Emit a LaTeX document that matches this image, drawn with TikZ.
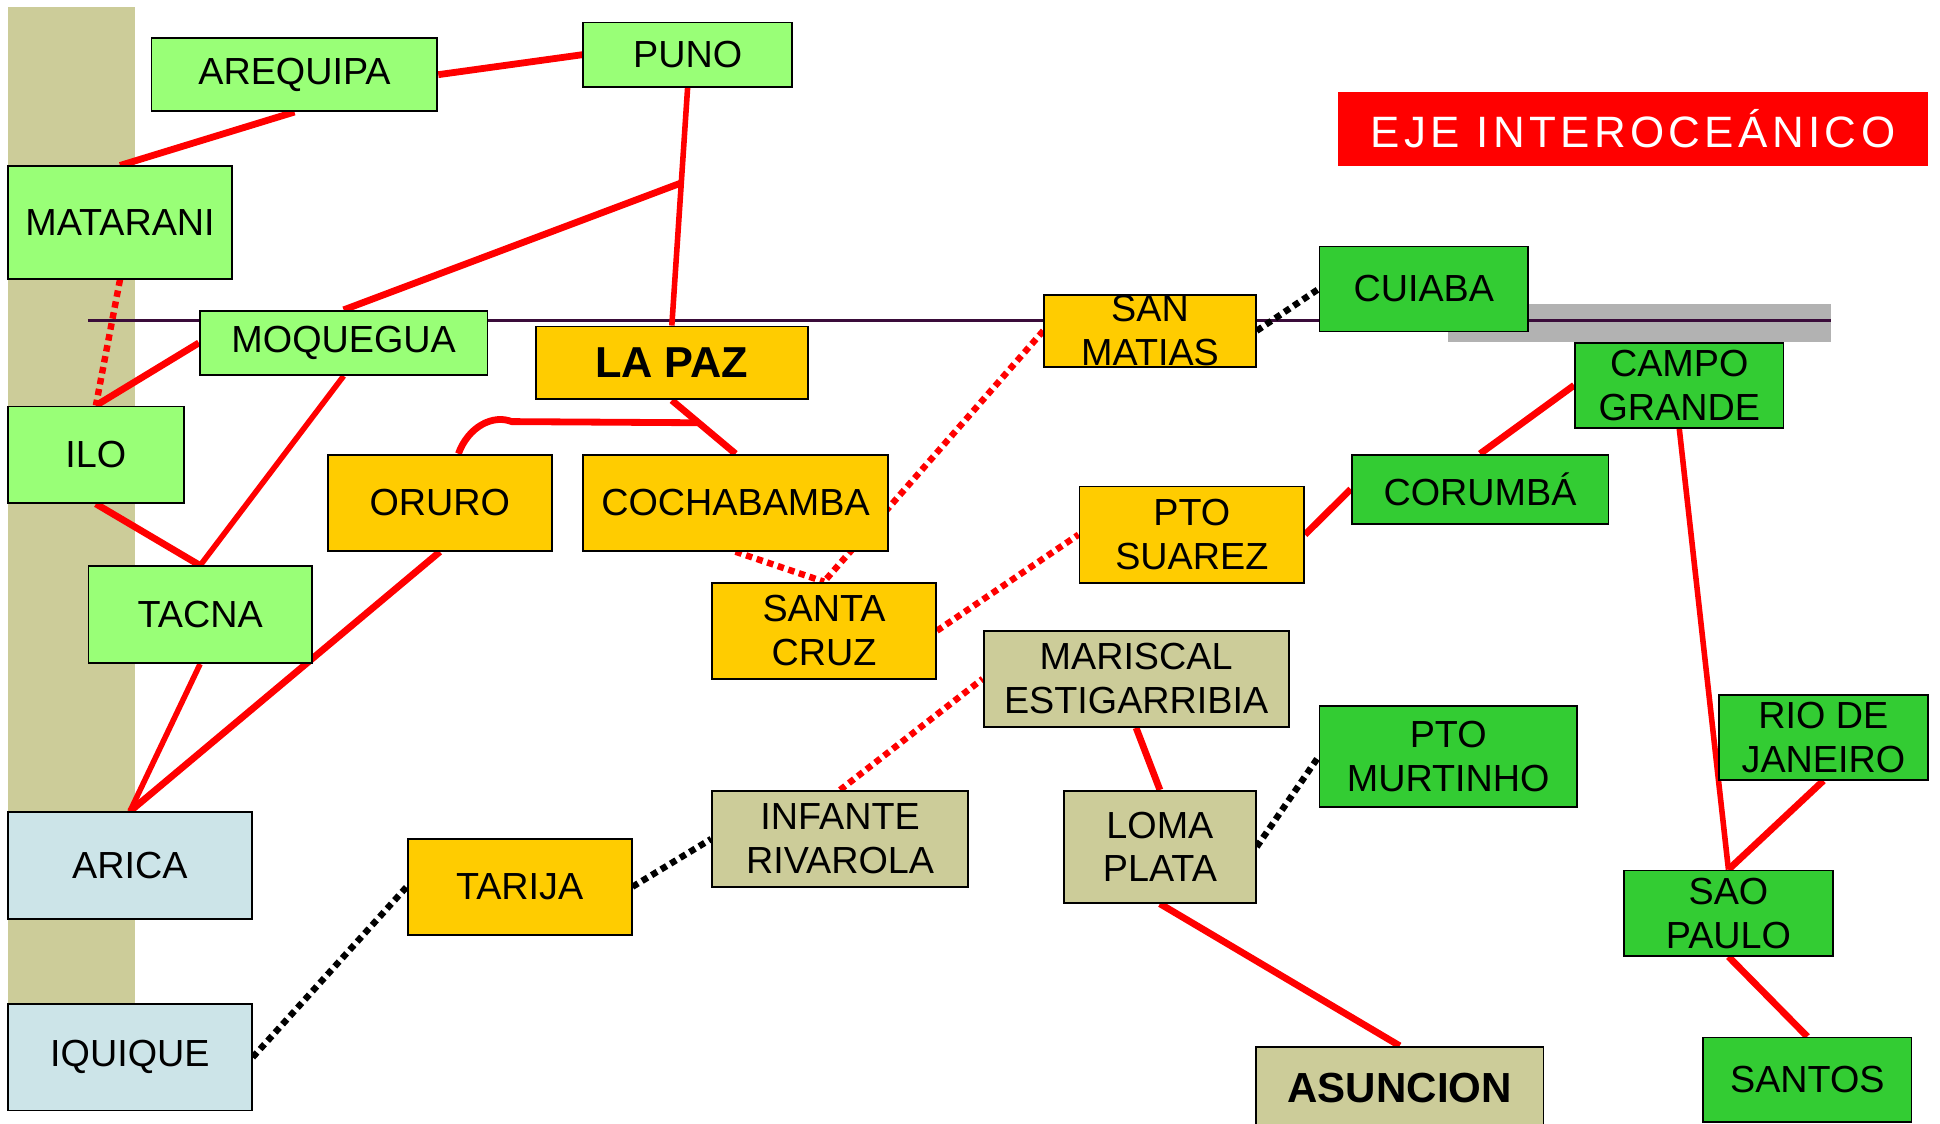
\documentclass[tikz,border=0pt]{standalone}
\usepackage{fontspec}
\setmainfont{Liberation Sans}
\newfontfamily\titlefont[LetterSpace=10]{Liberation Sans}
\usetikzlibrary{calc}
\pgfdeclarelayer{bg}\pgfdeclarelayer{edges}\pgfsetlayers{bg,edges,main}
\definecolor{lgreen}{RGB}{153,255,119}
\definecolor{dgreen}{RGB}{51,204,51}
\definecolor{gold}{RGB}{255,204,0}
\definecolor{tan}{RGB}{204,204,153}
\definecolor{lblue}{RGB}{204,228,232}
\definecolor{axis}{RGB}{58,12,58}
\definecolor{barg}{RGB}{178,178,178}
\begin{document}
\begin{tikzpicture}[x=1pt,y=-1pt,
  box/.style={draw=black, line width=1.5pt, inner sep=0pt, align=center,
    font=\fontsize{30.5}{35.5}\selectfont},
  road/.style={red, line width=5.5pt},
  thinroad/.style={red, line width=4.5pt},
  rdot/.style={red, line width=5.2pt, dash pattern=on 5.2pt off 3.8pt},
  kdot/.style={black, line width=5.2pt, dash pattern=on 5.2pt off 3.8pt}]
\useasboundingbox (0,0) rectangle (1568,908);
\begin{pgfonlayer}{bg}
  \fill[white] (0,0) rectangle (1568,908);
  \fill[tan] (6.5,5.8) rectangle (109.5,812);
  \fill[barg] (1170.5,245.7) rectangle (1480,276.6);
  \draw[axis, line width=2.9pt] (71,259) -- (1480,259);
\end{pgfonlayer}
% nodes
\node[box, fill=lgreen, minimum width=231, minimum height=58.9] (areq) at (238,60.35) {AREQUIPA};
\node[box, fill=lgreen, minimum width=168.5, minimum height=52] (puno) at (555.75,44.2) {PUNO};
\node[box, fill=lgreen, minimum width=181, minimum height=90.7] (mata) at (97,179.85) {MATARANI};
\node[box, fill=lgreen, minimum width=232.5, minimum height=51.9] (moq) at (277.75,277.15) {MOQUEGUA};
\node[box, fill=gold, minimum width=220, minimum height=58.9, font=\fontsize{35}{40}\bfseries] (lapaz) at (543,293.35) {LA PAZ};
\node[box, fill=lgreen, minimum width=142, minimum height=78] (ilo) at (77.5,367.5) {ILO};
\node[box, fill=gold, minimum width=181, minimum height=77.7] (oruro) at (355.5,406.35) {ORURO};
\node[box, fill=gold, minimum width=246, minimum height=77.7] (cocha) at (594.5,406.35) {COCHABAMBA};
\node[box, fill=lgreen, minimum width=180.5, minimum height=78.1] (tacna) at (161.75,496.85) {TACNA};
\node[box, fill=lblue, minimum width=197, minimum height=86.2] (arica) at (105,699.7) {ARICA};
\node[box, fill=lblue, minimum width=197, minimum height=85.9] (iqui) at (105,854.55) {IQUIQUE};
\node[box, fill=gold, minimum width=181, minimum height=77.8] (tarija) at (420,716.7) {TARIJA};
\node[box, fill=gold, minimum width=181, minimum height=77.8] (scruz) at (666,509.8) {SANTA\\CRUZ};
\node[box, fill=tan, minimum width=207, minimum height=77.8] (infante) at (679,678.1) {INFANTE\\RIVAROLA};
\node[box, fill=gold, minimum width=171, minimum height=58.3] (smatias) at (929.5,267.35) {SAN\\MATIAS};
\node[box, fill=dgreen, minimum width=168.5, minimum height=68.7] (cuiaba) at (1150.75,233.55) {CUIABA};
\node[box, fill=dgreen, minimum width=168.5, minimum height=68.4] (campo) at (1357.25,311.4) {CAMPO\\GRANDE};
\node[box, fill=dgreen, minimum width=207.5, minimum height=55.7] (corumba) at (1196.25,395.35) {CORUMBÁ};
\node[box, fill=gold, minimum width=181.5, minimum height=77.8] (psuarez) at (963.25,432.1) {PTO\\SUAREZ};
\node[box, fill=tan, minimum width=246.5, minimum height=77.7] (mariscal) at (918.25,548.65) {MARISCAL\\ESTIGARRIBIA};
\node[box, fill=dgreen, minimum width=208, minimum height=81.6] (murt) at (1170.5,611.5) {PTO\\MURTINHO};
\node[box, fill=tan, minimum width=155, minimum height=90.5] (loma) at (937.5,684.45) {LOMA\\PLATA};
\node[box, fill=tan, minimum width=232.5, minimum height=66, font=\fontsize{34}{40}\bfseries] (asun) at (1131.25,879) {ASUNCION};
\node[box, fill=dgreen, minimum width=168.5, minimum height=68.8] (rio) at (1473.75,595.8) {RIO DE\\JANEIRO};
\node[box, fill=dgreen, minimum width=169, minimum height=68.8] (sao) at (1397,738) {SAO\\PAULO};
\node[box, fill=dgreen, minimum width=168.5, minimum height=68.2] (santos) at (1460.75,872.7) {SANTOS};
\node[fill=red, inner sep=0pt, minimum width=476.5, minimum height=59.5, text=white,
  font=\titlefont\fontsize{35.5}{40}\selectfont] (title) at (1319.75,104.25) {EJE INTEROCEÁNICO};
% connectors
\begin{pgfonlayer}{edges}
  \coordinate (b1) at ($(puno.south)!0.4!(lapaz.north)$);
  \coordinate (b2) at ($(lapaz.south)!0.42!(cocha.north)$);
  \draw[road] (areq.east) -- (puno.west);
  \draw[road] (areq.south) -- (mata.north);
  \draw[thinroad] (puno.south) -- (lapaz.north);
  \draw[road] (b1) -- (moq.north);
  \draw[rdot] (mata.south) -- (ilo.north);
  \draw[road] (moq.west) -- (ilo.north);
  \draw[road] (ilo.south) -- (tacna.north);
  \draw[thinroad] (moq.south) -- (tacna.north);
  \draw[thinroad] (tacna.south) -- (arica.north);
  \draw[road] (oruro.south) -- (arica.north);
  \draw[road] (lapaz.south) -- (cocha.north);
  \draw[road] ([xshift=15pt]oruro.north) .. controls +(8,-22) and +(-15,-6) .. ++(43,-26) -- (b2);
  \draw[rdot] (cocha.south) -- (scruz.north);
  \draw[rdot] (smatias.west) -- (scruz.north);
  \draw[kdot] (smatias.east) -- (cuiaba.west);
  \draw[road] (campo.west) -- (corumba.north);
  \draw[road] (corumba.west) -- (psuarez.east);
  \draw[rdot] (scruz.east) -- (psuarez.west);
  \draw[rdot] (infante.north) -- (mariscal.west);
  \draw[kdot] (iqui.east) -- (tarija.west);
  \draw[kdot] (tarija.east) -- (infante.west);
  \draw[road] (mariscal.south) -- (loma.north);
  \draw[kdot] (loma.east) -- (murt.west);
  \draw[road] (loma.south) -- (asun.north);
  \draw[thinroad] (campo.south) -- (sao.north);
  \draw[road] (rio.south) -- (sao.north);
  \draw[road] (sao.south) -- (santos.north);
\end{pgfonlayer}
\end{tikzpicture}
\end{document}
